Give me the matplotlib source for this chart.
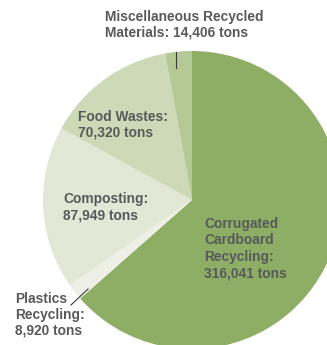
import matplotlib
matplotlib.use("Agg")
import matplotlib.pyplot as plt

# recycled tonnage by category (clockwise from top)
labels = ["Corrugated\nCardboard\nRecycling:\n316,041 tons",
          "Plastics\nRecycling:\n8,920 tons",
          "Composting:\n87,949 tons",
          "Food Wastes:\n70,320 tons",
          "Miscellaneous Recycled\nMaterials: 14,406 tons"]
tons = [316041, 8920, 87949, 70320, 14406]
colors = ["#8EAE65", "#EEF0E5", "#E3E8D6", "#CEDAB7", "#B4C995"]

W, H = 327, 345
fig = plt.figure(figsize=(W / 100, H / 100), dpi=100)
ax = fig.add_axes([0, 0, 1, 1])

# pie centre / radius in pixel coords (y measured from bottom)
cx, cy, r = 192, H - 200, 149
ax.pie(tons, colors=colors, startangle=90, counterclock=False,
       center=(cx, cy), radius=r, frame=True,
       wedgeprops=dict(linewidth=0))
ax.set_xlim(0, W)
ax.set_ylim(0, H)
ax.set_aspect("equal")
ax.axis("off")

txt = dict(fontsize=9.9, fontweight="bold", color="#58595B",
           family=["Liberation Sans", "DejaVu Sans"], va="top", ha="left")

# label positions (left, top) in pixels from top-left, plus line spacing
pos = [(204, 217, 1.22), (15, 292, 1.15), (63, 192, 1.2),
       (78, 110, 1.1), (105, 10, 1.15)]
for lab, (x, y, ls) in zip(labels, pos):
    ax.text(x, H - y, lab, linespacing=ls, **txt)

# leader lines
ax.plot([176, 176], [H - 52, H - 68], color="#3a3a3a", lw=0.8)
ax.plot([71, 88], [H - 305, H - 289], color="#3a3a3a", lw=0.8)

plt.savefig("out.png", dpi=100)
